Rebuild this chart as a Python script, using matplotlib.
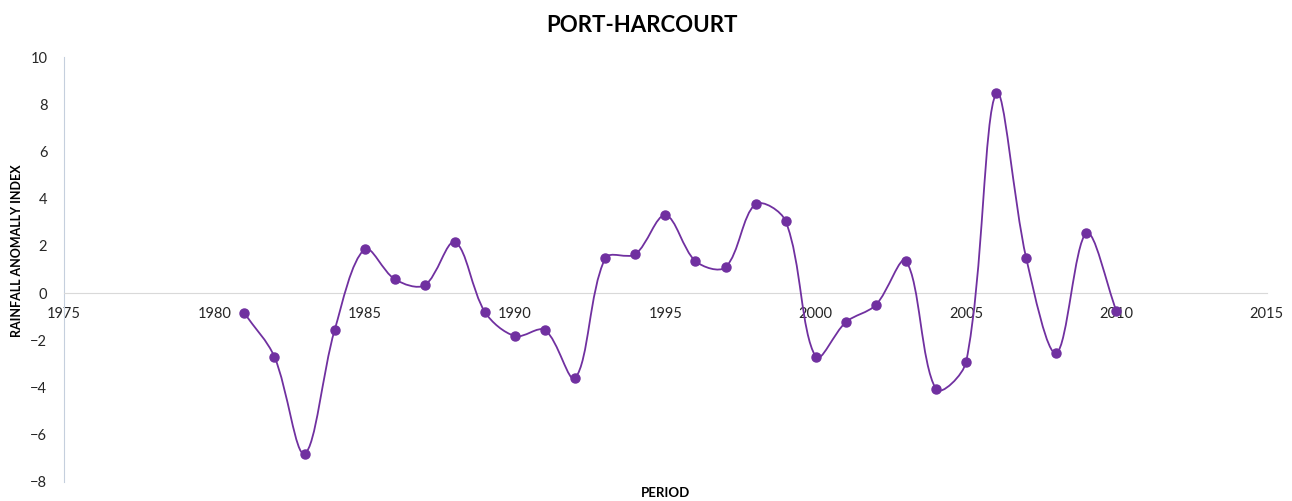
import numpy as np
import matplotlib.pyplot as plt
from matplotlib.path import Path
from matplotlib.patches import PathPatch

plt.rcParams['font.family'] = ['Lato', 'DejaVu Sans']

years = [1981, 1982, 1983, 1984, 1985, 1986, 1987, 1988, 1989, 1990,
         1991, 1992, 1993, 1994, 1995, 1996, 1997, 1998, 1999, 2000,
         2001, 2002, 2003, 2004, 2005, 2006, 2007, 2008, 2009, 2010]
rai = [-0.85, -2.7, -6.8, -1.57, 1.86, 0.59, 0.34, 2.16, -0.8, -1.82,
       -1.57, -3.6, 1.48, 1.65, 3.3, 1.36, 1.1, 3.77, 3.05, -2.7,
       -1.23, -0.5, 1.36, -4.07, -2.92, 8.47, 1.48, -2.54, 2.54, -0.76]

purple = '#7030A0'

fig = plt.figure(figsize=(12.92, 5.01), dpi=100)
ax = fig.add_axes([0.0495, 0.038, 0.931, 0.848])
ax.set_xlim(1975, 2015)
ax.set_ylim(-8, 10)

# smoothed line like Excel: bezier segments, arms split by chord length (in pixels)
x = np.array(years, dtype=float)
y = np.array(rai, dtype=float)
pts = ax.transData.transform(np.column_stack([x, y]))
n = len(x)
d = np.hypot(np.diff(pts[:, 0]), np.diff(pts[:, 1]))

def arms(i):
    # returns (incoming arm, outgoing arm) at point i
    if i == 0:
        t = np.array([x[1] - x[0], y[1] - y[0]])
        return None, t / 3
    if i == n - 1:
        t = np.array([x[i] - x[i - 1], y[i] - y[i - 1]])
        return t / 3, None
    t = np.array([x[i + 1] - x[i - 1], y[i + 1] - y[i - 1]])
    tot = d[i - 1] + d[i]
    return t * d[i - 1] / tot / 3, t * d[i] / tot / 3

verts = [(x[0], y[0])]
codes = [Path.MOVETO]
for i in range(n - 1):
    a_out = arms(i)[1]
    a_in = arms(i + 1)[0]
    verts += [(x[i] + a_out[0], y[i] + a_out[1]),
              (x[i + 1] - a_in[0], y[i + 1] - a_in[1]),
              (x[i + 1], y[i + 1])]
    codes += [Path.CURVE4, Path.CURVE4, Path.CURVE4]
ax.add_patch(PathPatch(Path(verts, codes), fill=False, edgecolor=purple, lw=1.3, zorder=3))
ax.plot(years, rai, 'o', color=purple, markersize=6.5, zorder=4)

ax.set_xticks(np.arange(1975, 2016, 5))
ax.set_yticks(np.arange(-8, 11, 2))

for s in ['top', 'right']:
    ax.spines[s].set_visible(False)
ax.spines['bottom'].set_position(('data', 0))
ax.spines['bottom'].set_color('#d9d9d9')
ax.spines['left'].set_color('#c5cfdd')
ax.tick_params(length=0, labelsize=10.5, colors='#262626')
ax.tick_params(axis='x', pad=10)
ax.tick_params(axis='y', pad=12)

fig.text(0.497, 0.95, 'PORT-HARCOURT', ha='center', va='center',
         fontsize=16, fontweight='bold')
fig.text(0.515, 0.015, 'PERIOD', ha='center', va='center', fontsize=9.5, fontweight='bold')
fig.text(0.013, 0.5, 'RAINFALL ANOMALLY INDEX', ha='center', va='center',
         rotation=90, fontsize=9, fontweight='bold')

fig.savefig('out.png', dpi=100)
